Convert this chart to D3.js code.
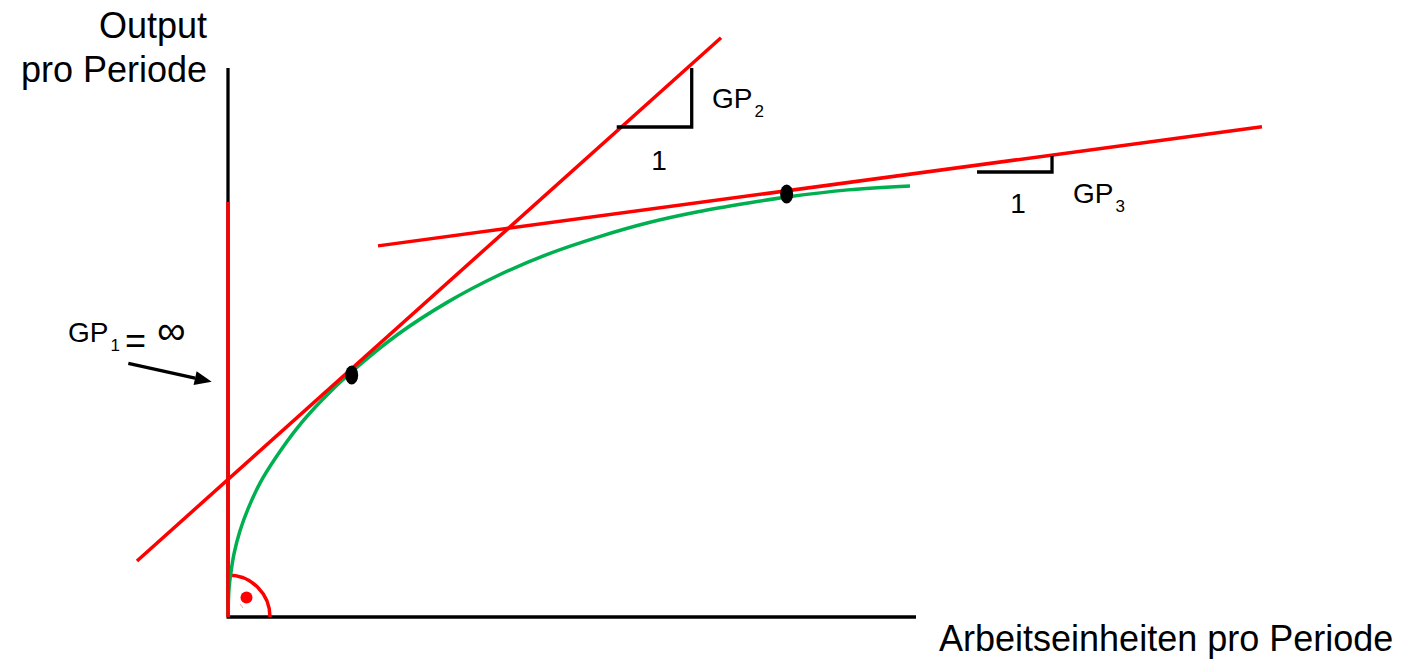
<!DOCTYPE html>
<html>
<head>
<meta charset="utf-8">
<script src="https://cdn.jsdelivr.net/npm/d3@7"></script>
<style>
  html, body { margin: 0; padding: 0; background: #ffffff; }
  svg { display: block; }
  text { font-family: "Liberation Sans", Arial, sans-serif; fill: #000; }
</style>
</head>
<body>
<svg id="chart" width="1411" height="659"></svg>
<script>
// ---------- data (abstract units, 0..100 on each axis) ----------
const curveX = [0, 0.145, 0.436, 0.872, 1.744, 2.907, 4.651, 6.977, 10.17, 13.81, 17.73, 24.71, 31.98, 39.24, 46.51, 53.78, 61.05, 68.31, 75.58, 81.25, 90.12, 99.13];
const curveY = [0, 5.1, 8.2, 11.5, 15.7, 19.7, 24.4, 29.1, 34.6, 39.7, 44.4, 51.5, 57.4, 62.2, 66.1, 69.2, 71.8, 73.8, 75.4, 76.5, 77.8, 78.5];

const tangent1X = [-13.23, 71.66];
const tangent1Y = [10.2, 105.5];
const tangent2X = [21.80, 150.29];
const tangent2Y = [67.6, 89.3];

const verticalTangentTop = 75.6;   // GP1 = infinity line height

const pointsX = [17.98, 81.2];
const pointsY = [44.08, 77.05];

// slope triangles: [x1, x2, yBase, yTop]
const triGP2 = [56.5, 67.4, 89.25, 100];
const triGP3 = [108.87, 119.77, 81.06, 83.97];

const yAxisLabel = ["Output", "pro Periode"];
const xAxisLabel = "Arbeitseinheiten pro Periode";
const gpLabels = ["GP", "1", "2", "3"];

// ---------- scales ----------
const svg = d3.select("#chart");
const x = d3.scaleLinear().domain([0, 100]).range([228, 916]);
const y = d3.scaleLinear().domain([0, 100]).range([617, 68]);

const RED = "#ff0000", GREEN = "#00b050", BLACK = "#000000";
const LW = 3.5;

// ---------- axes ----------
svg.append("line")
  .attr("x1", x(0)).attr("x2", x(0))
  .attr("y1", y(0)).attr("y2", y(100))
  .attr("stroke", BLACK).attr("stroke-width", 3.3);
svg.append("line")
  .attr("x1", x(0) - 1.5).attr("x2", x(100))
  .attr("y1", y(0)).attr("y2", y(0))
  .attr("stroke", BLACK).attr("stroke-width", 3.3);

// right-angle marker
const arcR = 42;
const p = d3.path();
p.moveTo(x(0), y(0) - arcR);
p.arc(x(0), y(0), arcR, -Math.PI / 2, 0);
svg.append("path").attr("d", p.toString())
  .attr("fill", "none").attr("stroke", RED).attr("stroke-width", LW);
svg.append("circle").attr("cx", x(0) + 18.5).attr("cy", y(0) - 19.5).attr("r", 6).attr("fill", RED);
svg.append("line")
  .attr("x1", x(0) + 12).attr("y1", y(0) - 13)
  .attr("x2", x(0) + 15).attr("y2", y(0) - 9)
  .attr("stroke", "#f5a8a8").attr("stroke-width", 1);

// ---------- production curve ----------
const line = d3.line().x(d => x(d[0])).y(d => y(d[1])).curve(d3.curveCatmullRom.alpha(0.5));
svg.append("path")
  .datum(d3.zip(curveX, curveY))
  .attr("d", line)
  .attr("fill", "none").attr("stroke", GREEN).attr("stroke-width", LW);

// vertical tangent at origin (GP1)
svg.append("line")
  .attr("x1", x(0)).attr("x2", x(0))
  .attr("y1", y(0)).attr("y2", y(verticalTangentTop))
  .attr("stroke", RED).attr("stroke-width", LW);

// tangents
const straight = d3.line().x(d => x(d[0])).y(d => y(d[1]));
[[tangent1X, tangent1Y], [tangent2X, tangent2Y]].forEach(([tx, ty]) => {
  svg.append("path")
    .datum(d3.zip(tx, ty))
    .attr("d", straight)
    .attr("fill", "none").attr("stroke", RED).attr("stroke-width", LW);
});

// tangent points
svg.selectAll("ellipse.pt")
  .data(d3.zip(pointsX, pointsY))
  .join("ellipse")
  .attr("class", "pt")
  .attr("cx", d => x(d[0])).attr("cy", d => y(d[1]))
  .attr("rx", 6.5).attr("ry", 9.5)
  .attr("fill", BLACK);

// slope triangles
[triGP2, triGP3].forEach(t => {
  svg.append("path")
    .attr("d", d3.line()([[x(t[0]), y(t[2])], [x(t[1]), y(t[2])], [x(t[1]), y(t[3])]]))
    .attr("fill", "none").attr("stroke", BLACK).attr("stroke-width", 3.3)
    .attr("stroke-linejoin", "miter");
});

// ---------- labels ----------
svg.append("text").attr("x", 207).attr("y", 38)
  .attr("text-anchor", "end").attr("font-size", 36).text(yAxisLabel[0]);
svg.append("text").attr("x", 207).attr("y", 82)
  .attr("text-anchor", "end").attr("font-size", 36).text(yAxisLabel[1]);
svg.append("text").attr("x", 939).attr("y", 651)
  .attr("font-size", 36).text(xAxisLabel);

function gpLabel(px, py, sub) {
  const t = svg.append("text").attr("x", px).attr("y", py).attr("font-size", 28);
  t.append("tspan").text(gpLabels[0]);
  t.append("tspan").attr("font-size", 17).attr("dx", 2).attr("dy", 9).text(sub);
  return t;
}
gpLabel(x(70.35), y(92.7), gpLabels[2]);
gpLabel(x(122.82), y(75.4), gpLabels[3]);
gpLabel(x(-23.26), y(50.1), gpLabels[1]);

svg.append("text").attr("x", 125).attr("y", 353).attr("font-size", 36).text("=");
svg.append("text").attr("x", 157).attr("y", 344).attr("font-size", 40).text("\u221E");

// "1" labels under triangles
svg.append("text").attr("x", x(62.65)).attr("y", y(81.4))
  .attr("text-anchor", "middle").attr("font-size", 28).text("1");
svg.append("text").attr("x", x(114.83)).attr("y", y(73.6))
  .attr("text-anchor", "middle").attr("font-size", 28).text("1");

// arrow pointing to the vertical tangent
const arrowStart = [-14.49, 46.2], arrowEnd = [-2.37, 42.86];
const ax1 = x(arrowStart[0]), ay1 = y(arrowStart[1]);
const ax2 = x(arrowEnd[0]), ay2 = y(arrowEnd[1]);
const ang = Math.atan2(ay2 - ay1, ax2 - ax1);
const headLen = 17, headW = 7;
const bx = ax2 - headLen * Math.cos(ang), by = ay2 - headLen * Math.sin(ang);
svg.append("line")
  .attr("x1", ax1).attr("y1", ay1).attr("x2", bx).attr("y2", by)
  .attr("stroke", BLACK).attr("stroke-width", 3.3);
svg.append("path")
  .attr("d", d3.line()([
    [ax2, ay2],
    [bx + headW * Math.sin(ang), by - headW * Math.cos(ang)],
    [bx - headW * Math.sin(ang), by + headW * Math.cos(ang)]
  ]) + "Z")
  .attr("fill", BLACK);
</script>
</body>
</html>
